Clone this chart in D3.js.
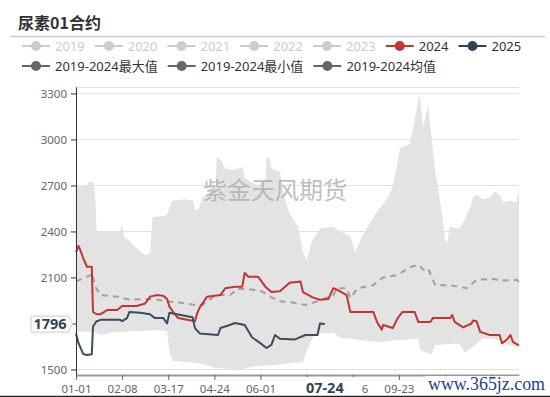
<!DOCTYPE html>
<html>
<head>
<meta charset="utf-8">
<script src="https://cdn.jsdelivr.net/npm/d3@7"></script>
<style>
  body { margin: 0; background: #fff; }
  svg { display: block; font-family: "Noto Sans", "Noto Sans CJK SC", sans-serif; }
</style>
</head>
<body>
<svg id="chart" width="550" height="397"></svg>
<script>
const title = '尿素01合约';
const legendYears = ['2019', '2020', '2021', '2022', '2023', '2024', '2025'];
const legendStats = ['2019-2024最大值', '2019-2024最小值', '2019-2024均值'];
const yTicks = [1500, 1800, 2100, 2400, 2700, 3000, 3300];
const pointerDate = '07-24';
const pointerValue = 1796;

// 2019-2024 max / min band
const maxSeries = [
  ['01-01', 2700], ['01-10', 2700], ['01-11', 2720], ['01-15', 2725], ['01-17', 2600], ['01-18', 2400],
  ['02-06', 2400], ['02-08', 2440], ['02-10', 2360], ['02-14', 2340], ['02-20', 2290], ['02-27', 2245],
  ['03-02', 2260], ['03-04', 2495], ['03-13', 2500], ['03-16', 2510], ['03-20', 2600], ['03-31', 2610],
  ['04-04', 2600], ['04-06', 2610], ['04-08', 2540], ['04-11', 2545], ['04-14', 2620], ['04-20', 2650],
  ['04-25', 2680], ['04-26', 2885], ['04-29', 2870], ['05-03', 2810], ['05-11', 2800], ['05-17', 2820],
  ['05-19', 2750], ['05-25', 2720], ['05-30', 2700], ['06-05', 2740], ['06-06', 2885], ['06-09', 2870],
  ['06-10', 2810], ['06-17', 2790], ['06-21', 2610], ['06-25', 2515], ['07-02', 2430], ['07-06', 2265],
  ['07-09', 2210], ['07-13', 2330], ['07-20', 2420], ['07-31', 2430], ['08-06', 2400], ['08-14', 2370],
  ['08-18', 2265], ['08-22', 2340], ['08-29', 2440], ['09-05', 2530], ['09-09', 2570], ['09-14', 2620],
  ['09-18', 2700], ['09-21', 2810], ['09-24', 2945], ['10-02', 2970], ['10-06', 3120], ['10-10', 3300],
  ['10-13', 3075], ['10-17', 3225], ['10-20', 3010], ['10-23', 2790], ['10-25', 2700], ['10-29', 2490],
  ['10-31', 2345], ['11-02', 2330], ['11-04', 2430], ['11-12', 2420], ['11-15', 2460], ['11-21', 2560],
  ['11-23', 2620], ['11-26', 2640], ['12-01', 2610], ['12-07', 2620], ['12-11', 2660], ['12-15', 2640],
  ['12-18', 2590], ['12-24', 2600], ['12-29', 2590], ['12-31', 2690]
];
const minSeries = [
  ['01-01', 1750], ['01-17', 1745], ['01-21', 1725], ['01-29', 1740], ['02-14', 1750], ['03-08', 1755],
  ['03-16', 1750], ['03-18', 1615], ['03-21', 1555], ['04-06', 1545], ['04-18', 1530], ['04-25', 1510],
  ['05-17', 1500], ['05-25', 1520], ['06-13', 1530], ['06-29', 1545], ['07-06', 1545], ['07-09', 1620],
  ['07-14', 1705], ['07-18', 1735], ['07-31', 1740], ['08-06', 1705], ['08-14', 1700], ['09-05', 1680],
  ['09-21', 1690], ['10-09', 1700], ['10-11', 1625], ['10-20', 1600], ['10-23', 1660], ['11-12', 1670],
  ['11-16', 1610], ['11-22', 1640], ['12-01', 1700], ['12-10', 1700], ['12-20', 1670], ['12-31', 1640]
];
const meanSeries = [
  ['01-01', 2075], ['01-07', 2095], ['01-13', 2115], ['01-14', 2130], ['01-17', 2040], ['01-21', 1985],
  ['02-04', 1975], ['02-14', 1955], ['03-04', 1960], ['03-16', 1945], ['03-28', 1935], ['04-08', 1920],
  ['04-14', 1920], ['04-25', 1985], ['05-07', 1985], ['05-13', 2025], ['05-22', 2025], ['06-02', 2010],
  ['06-10', 1970], ['06-17', 1945], ['06-29', 1935], ['07-08', 1920], ['07-20', 1950], ['07-31', 1985],
  ['08-03', 2030], ['08-11', 2030], ['08-14', 1965], ['08-20', 2030], ['09-02', 2050], ['09-10', 2100],
  ['09-21', 2115], ['09-30', 2155], ['10-05', 2175], ['10-10', 2180], ['10-13', 2150], ['10-17', 2160],
  ['10-23', 2050], ['11-02', 2050], ['11-12', 2040], ['11-18', 2030], ['11-26', 2085], ['12-10', 2090],
  ['12-17', 2080], ['12-29', 2085], ['12-31', 2070]
];
const series2024 = [
  ['01-01', 2265], ['01-03', 2305], ['01-04', 2290], ['01-07', 2225], ['01-10', 2170], ['01-14', 2170],
  ['01-15', 1875], ['01-18', 1860], ['01-21', 1860], ['01-27', 1888], ['02-04', 1888], ['02-08', 1914],
  ['02-20', 1914], ['02-27', 1930], ['03-02', 1975], ['03-08', 1986], ['03-13', 1980], ['03-16', 1960],
  ['03-18', 1910], ['03-21', 1875], ['03-25', 1835], ['04-08', 1815], ['04-10', 1870], ['04-12', 1905],
  ['04-18', 1975], ['04-29', 1985], ['05-03', 2030], ['05-11', 2040], ['05-17', 2040], ['05-19', 2130],
  ['05-22', 2105], ['05-30', 2105], ['06-05', 2040], ['06-10', 2005], ['06-17', 2010], ['06-25', 2065],
  ['07-04', 2073], ['07-06', 2005], ['07-14', 1970], ['07-20', 1955], ['07-27', 1960], ['07-31', 2030],
  ['08-03', 2020], ['08-11', 1985], ['08-14', 1875], ['08-22', 1875], ['09-02', 1875], ['09-05', 1810],
  ['09-09', 1760], ['09-10', 1790], ['09-18', 1770], ['09-22', 1835], ['09-26', 1875], ['10-06', 1875],
  ['10-09', 1810], ['10-19', 1810], ['10-21', 1835], ['11-04', 1835], ['11-06', 1855], ['11-08', 1810],
  ['11-15', 1775], ['11-22', 1800], ['11-23', 1820], ['11-26', 1815], ['11-29', 1745], ['12-07', 1725],
  ['12-15', 1725], ['12-17', 1670], ['12-21', 1695], ['12-24', 1725], ['12-26', 1680], ['12-29', 1665],
  ['12-31', 1660]
];
const series2025 = [
  ['01-01', 1735], ['01-03', 1673], ['01-07', 1600], ['01-10', 1595], ['01-14', 1600], ['01-15', 1780],
  ['01-18', 1815], ['01-22', 1825], ['02-06', 1825], ['02-08', 1815], ['02-12', 1835], ['02-14', 1875],
  ['02-23', 1870], ['03-02', 1860], ['03-06', 1835], ['03-13', 1835], ['03-16', 1800], ['03-18', 1870],
  ['03-24', 1860], ['04-06', 1840], ['04-08', 1770], ['04-12', 1735], ['04-27', 1725], ['04-29', 1770],
  ['05-05', 1785], ['05-11', 1803], ['05-19', 1790], ['05-25', 1710], ['06-02', 1665], ['06-06', 1640],
  ['06-10', 1660], ['06-13', 1725], ['06-17', 1700], ['06-29', 1695], ['07-08', 1725], ['07-18', 1725],
  ['07-20', 1800], ['07-24', 1796]
];

const svg = d3.select('#chart');
const plotLeft = 76, plotRight = 519, plotTop = 87, plotBottom = 375;

// daily categories of a leap year, like the original category axis
const fmt = d3.timeFormat('%m-%d');
const categories = d3.timeDay.range(new Date(2024, 0, 1), new Date(2025, 0, 1)).map(fmt);

const x = d3.scalePoint().domain(categories).range([plotLeft, plotRight]);
const y = d3.scaleLinear().domain([1464, 3342]).range([plotBottom, plotTop]);

// title
svg.append('text').attr('x', 18).attr('y', 29)
  .attr('font-size', 16).attr('font-weight', 'bold').attr('fill', '#333')
  .style('font-family', '"Noto Sans CJK SC", sans-serif')
  .text(title);
svg.append('line').attr('x1', 10).attr('x2', 545).attr('y1', 36.5).attr('y2', 36.5)
  .attr('stroke', '#ccc').attr('stroke-width', 1.5);

// legend
function drawLegend(items, startY, colorOf, textColorOf) {
  let cx = 22;
  items.forEach((name, i) => {
    const g = svg.append('g').attr('transform', `translate(${cx},${startY})`);
    g.append('line').attr('x1', 0).attr('x2', 28).attr('y1', 0).attr('y2', 0)
      .attr('stroke', colorOf(name, i)).attr('stroke-width', 2);
    g.append('circle').attr('cx', 14).attr('cy', 0).attr('r', 5).attr('fill', colorOf(name, i));
    const t = g.append('text').attr('x', 33).attr('y', 4.5).attr('font-size', 13)
      .attr('fill', textColorOf(name, i)).text(name);
    cx += 33 + t.node().getComputedTextLength() + 10;
  });
}
const yearColor = { '2024': '#c23531', '2025': '#2f4554' };
drawLegend(legendYears, 46, n => yearColor[n] || '#ccc', n => yearColor[n] ? '#333' : '#ccc');
drawLegend(legendStats, 66, () => '#666', () => '#333');

// band between max and min
const pt = d => [x(d[0]), y(d[1])];
const bandPts = maxSeries.map(pt).concat(minSeries.slice().reverse().map(pt));
svg.append('path').attr('d', d3.line()(bandPts) + 'Z').attr('fill', '#e3e3e3');

// grid
svg.append('g').selectAll('line').data(yTicks.concat([y.domain()[1]])).join('line')
  .attr('x1', plotLeft).attr('x2', plotRight)
  .attr('y1', d => Math.round(y(d)) + 0.5).attr('y2', d => Math.round(y(d)) + 0.5)
  .attr('stroke', '#e2e2e2').attr('stroke-width', 1);

// watermark in plot
svg.append('text').attr('x', 275).attr('y', 199).attr('text-anchor', 'middle')
  .attr('font-size', 24).attr('fill', '#aaa').attr('opacity', 0.75)
  .style('font-family', '"Noto Sans CJK SC", sans-serif')
  .text('紫金天风期货');

// lines
const line = d3.line().x(d => x(d[0])).y(d => y(d[1]));
svg.append('path').attr('d', line(meanSeries)).attr('fill', 'none')
  .attr('stroke', '#a0a0a0').attr('stroke-width', 2).attr('stroke-dasharray', '6,5');
svg.append('path').attr('d', line(series2024)).attr('fill', 'none')
  .attr('stroke', '#c23531').attr('stroke-width', 2).attr('stroke-linejoin', 'round');
svg.append('path').attr('d', line(series2025)).attr('fill', 'none')
  .attr('stroke', '#3b4d5d').attr('stroke-width', 2).attr('stroke-linejoin', 'round');

// y axis (the label under the pointer box is hidden, as in the original)
const yAxis = svg.append('g').attr('transform', `translate(${plotLeft},0)`)
  .call(d3.axisLeft(y).tickValues(yTicks).tickFormat(d3.format('d'))
    .tickSize(5).tickPadding(4).tickSizeOuter(0));
yAxis.select('.domain').attr('stroke', '#333');
yAxis.selectAll('.tick line').attr('stroke', '#333');
yAxis.selectAll('text').attr('font-size', 11.5).attr('fill', '#666')
  .style('font-family', '"Noto Sans", sans-serif');
yAxis.selectAll('.tick').filter(d => Math.abs(y(d) - y(pointerValue)) < 12).select('text').remove();

// x axis (labels under the pointer label and the site mark are covered)
const xTicks = categories.filter((d, i) => i % 38 === 0);
const px = x(pointerDate);
const xAxis = svg.append('g').attr('transform', `translate(0,${plotBottom})`)
  .call(d3.axisBottom(x).tickValues(xTicks).tickSize(5).tickPadding(5).tickSizeOuter(0));
xAxis.select('.domain').attr('stroke', '#999').attr('stroke-width', 2);
xAxis.selectAll('.tick line').attr('stroke', '#666');
xAxis.selectAll('text').attr('font-size', 11.5).attr('fill', '#666')
  .style('font-family', '"Noto Sans", sans-serif');
xAxis.selectAll('.tick').filter(d => Math.abs(x(d) - px) < 25 || x(d) > 425).select('text').remove();

// axis pointer labels
svg.append('rect').attr('x', px - 36).attr('y', 377).attr('width', 72).attr('height', 19).attr('fill', '#fff');
svg.append('text').attr('x', px).attr('y', 393).attr('text-anchor', 'middle')
  .attr('font-size', 14.5).attr('font-weight', 'bold').attr('fill', '#2f4554').text(pointerDate);

const py = y(pointerValue);
svg.append('path')
  .attr('d', `M${31},${py - 8}H${68}L${73},${py}L${68},${py + 8}H${31}Z`)
  .attr('fill', '#fff').attr('stroke', '#ccc');
svg.append('text').attr('x', 50).attr('y', py + 5).attr('text-anchor', 'middle')
  .attr('font-size', 14.5).attr('font-weight', 'bold').attr('fill', '#2f4554').text(pointerValue);

// site watermark
svg.append('rect').attr('x', 425).attr('y', 376).attr('width', 125).attr('height', 19)
  .attr('fill', '#fff').attr('opacity', 0.85);
svg.append('text').attr('x', 428).attr('y', 390)
  .attr('font-size', 18).attr('fill', '#1e3f8f')
  .attr('textLength', 117).attr('lengthAdjust', 'spacingAndGlyphs')
  .style('font-family', '"Liberation Serif", "DejaVu Serif", serif')
  .text('www.365jz.com');
svg.append('line').attr('x1', 0).attr('x2', 550).attr('y1', 396.5).attr('y2', 396.5)
  .attr('stroke', '#222').attr('stroke-width', 1.5);
</script>
</body>
</html>
